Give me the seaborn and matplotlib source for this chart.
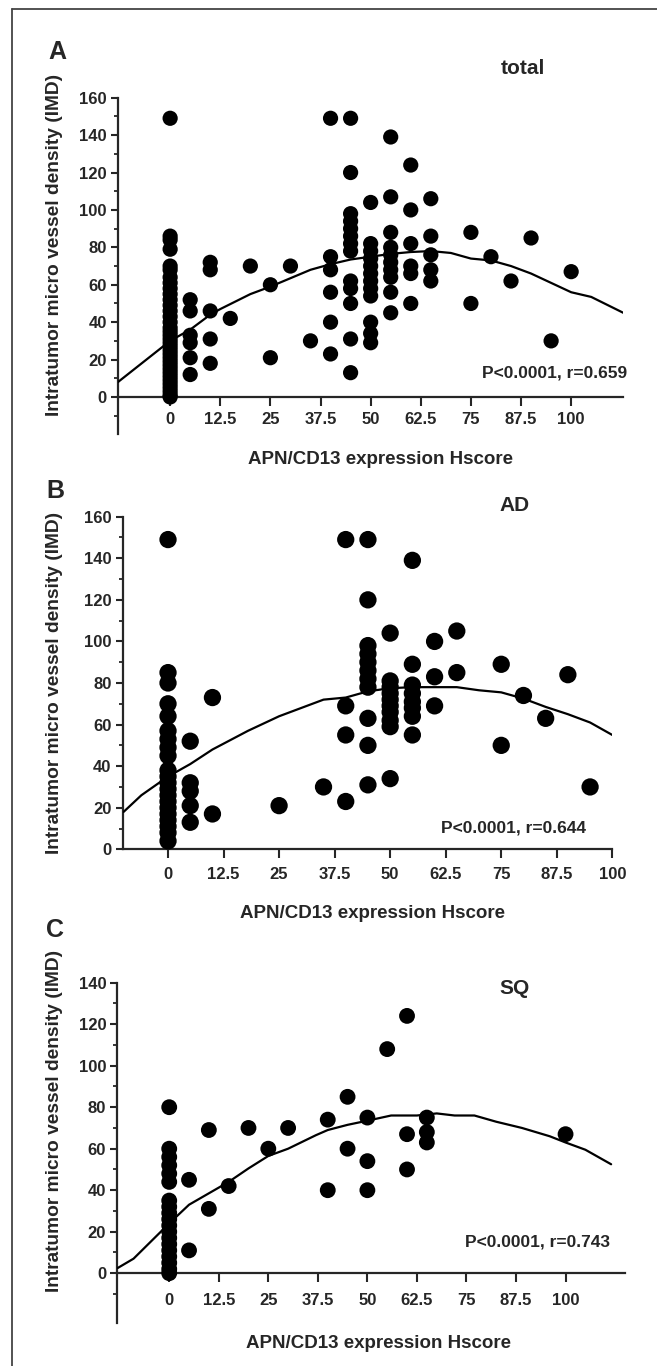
import numpy as np
import pandas as pd
import matplotlib
matplotlib.use("Agg")
import matplotlib.pyplot as plt
from matplotlib.lines import Line2D
import seaborn as sns

# ---------------- data ----------------
# Panel A (total)
total_hscore = [0]*35 + [5]*6 + [10]*5 + [15, 20, 25, 25, 30, 35] + [40]*6 + [45]*13 + [50]*12 + [55]*10 + [60]*6 + [65]*5 + [75, 75, 80, 85, 90, 95, 100]
total_imd = [149, 86, 84, 79, 70, 68, 64, 61, 58, 55, 52, 49, 46, 43, 40, 37, 35, 33, 31, 29, 27, 25, 23, 21, 19, 17, 15, 13, 11, 9, 7, 5, 3, 1, 0,
             52, 46, 33, 29, 21, 12,
             72, 68, 46, 31, 18,
             42, 70, 60, 21, 70, 30,
             149, 75, 68, 56, 40, 23,
             149, 120, 98, 94, 90, 86, 82, 78, 62, 58, 50, 31, 13,
             104, 82, 78, 74, 70, 66, 62, 58, 54, 40, 34, 29,
             139, 107, 88, 80, 76, 72, 68, 64, 56, 45,
             124, 100, 82, 70, 66, 50,
             106, 86, 76, 68, 62,
             88, 50, 75, 62, 85, 30, 67]
total_fit_x = [-13, 0, 5, 10, 12.5, 20, 25, 35, 40, 45, 50, 55, 60, 65, 70, 75, 80, 85, 90, 95, 100, 105, 113]
total_fit_y = [8, 30, 36, 44, 47, 55, 59, 68, 71, 73.5, 75, 76.5, 77.5, 78, 77, 74, 73, 70, 66, 61, 56, 53.5, 45]

# Panel B (AD)
ad_hscore = [0]*21 + [5]*5 + [10]*2 + [25, 35] + [40]*4 + [45]*11 + [50]*10 + [55]*8 + [60]*3 + [65]*2 + [75, 75, 80, 85, 90, 95]
ad_imd = [149, 85, 80, 70, 64, 57, 53, 49, 45, 38, 35, 32, 29, 26, 23, 20, 17, 14, 11, 8, 4,
          52, 32, 28, 21, 13,
          73, 17,
          21, 30,
          149, 69, 55, 23,
          149, 120, 98, 94, 90, 86, 82, 78, 63, 50, 31,
          104, 81, 78, 75, 72, 69, 66, 62, 59, 34,
          139, 89, 79, 75, 71, 68, 64, 55,
          100, 83, 69,
          105, 85,
          89, 50, 74, 63, 84, 30]
ad_fit_x = [-10, -6, 0, 5, 10, 18, 25, 35, 40, 45, 50, 55, 60, 65, 70, 75, 80, 85, 90, 95, 100]
ad_fit_y = [18, 26, 35, 41, 48, 57, 64, 72, 73, 76, 77.5, 78, 78, 78, 76.5, 75.5, 72.5, 68.5, 65, 61, 55]

# Panel C (SQ)
sq_hscore = [0]*19 + [5]*2 + [10]*2 + [15, 20, 25, 30] + [40]*2 + [45]*2 + [50]*3 + [55] + [60]*3 + [65]*3 + [100]
sq_imd = [80, 60, 56, 52, 48, 44, 35, 32, 29, 26, 23, 20, 17, 14, 11, 8, 5, 2, 0,
          45, 11,
          69, 31,
          42, 70, 60, 70,
          74, 40,
          85, 60,
          75, 54, 40,
          108,
          124, 67, 50,
          75, 68, 63,
          67]
sq_fit_x = [-13, -9, 0, 5, 10, 15, 20, 25, 30, 37, 40, 45, 50, 56, 62.5, 67.5, 72, 77, 82.5, 89, 96, 100, 105, 111.5]
sq_fit_y = [2.5, 7, 24, 33, 38.5, 44, 50.5, 56.5, 60, 66.5, 69, 71.5, 73.5, 76, 76, 77, 76, 76, 73, 70, 66, 63, 59.5, 52.5]

x_ticks = [0, 12.5, 25, 37.5, 50, 62.5, 75, 87.5, 100]
x_tick_labels = ["0", "12.5", "25", "37.5", "50", "62.5", "75", "87.5", "100"]
panel_letters = ["A", "B", "C"]
panel_titles = ["total", "AD", "SQ"]
stat_texts = ["P<0.0001, r=0.659", "P<0.0001, r=0.644", "P<0.0001, r=0.743"]
x_label = "APN/CD13 expression Hscore"
y_label = "Intratumor micro vessel density (IMD)"

# ---------------- style ----------------
sns.set_style("ticks")
plt.rcParams['font.family'] = ['Liberation Sans', 'DejaVu Sans']
plt.rcParams['font.weight'] = 'bold'

W, H = 657, 1366
fig = plt.figure(figsize=(W / 100, H / 100), dpi=100)
fig.patch.set_facecolor('white')

def fx(px):
    return px / W

def fy(py):
    return 1 - py / H

def axes_px(left, top, right, bottom):
    return fig.add_axes([fx(left), fy(bottom), (right - left) / W, (bottom - top) / H])

# frame lines (top and left)
fig.add_artist(Line2D([fx(12), fx(657)], [fy(9), fy(9)], transform=fig.transFigure, color='#444444', lw=1.3))
fig.add_artist(Line2D([fx(12), fx(12)], [fy(9), fy(1366)], transform=fig.transFigure, color='#444444', lw=1.3))

panels = [
    dict(x=total_hscore, y=total_imd, fx_=total_fit_x, fy_=total_fit_y,
         box=(118, 97.7, 623.3, 434.4), xlim=(-13, 113), ylim=(-20, 160),
         yticks=list(range(0, 161, 20)), yminor=[-10] + list(range(10, 160, 20)), s=120,
         letter=(57, 52), title=(523, 69), stat=(627, 373), xlab=(380, 459), ylab=(55, 245), tickpad=4),
    dict(x=ad_hscore, y=ad_imd, fx_=ad_fit_x, fy_=ad_fit_y,
         box=(122.7, 516.7, 612.3, 849.3), xlim=(-10.2, 100), ylim=(0, 160),
         yticks=list(range(0, 161, 20)), yminor=list(range(10, 160, 20)), s=155,
         letter=(55, 491), title=(515, 505), stat=(586, 828), xlab=(372, 914), ylab=(55, 683), tickpad=6),
    dict(x=sq_hscore, y=sq_imd, fx_=sq_fit_x, fy_=sq_fit_y,
         box=(117.3, 982.7, 625, 1323), xlim=(-13.1, 115), ylim=(-24, 140),
         yticks=list(range(0, 141, 20)), yminor=[-10] + list(range(10, 140, 20)), s=130,
         letter=(55, 930), title=(515, 988), stat=(610, 1242), xlab=(378, 1343), ylab=(55, 1121), tickpad=8),
]

for i, p in enumerate(panels):
    ax = axes_px(*p['box'])
    ax.set_facecolor('none')
    df = pd.DataFrame({'h': p['x'], 'imd': p['y']})
    fit = pd.DataFrame({'h': p['fx_'], 'imd': p['fy_']})
    sns.scatterplot(data=df, x='h', y='imd', ax=ax, color='black', s=p['s'],
                    linewidth=0, edgecolor='none', clip_on=False, zorder=3)
    sns.lineplot(data=fit, x='h', y='imd', ax=ax, color='black', lw=1.6,
                 sort=False, estimator=None, zorder=4)
    ax.set_xlim(*p['xlim'])
    ax.set_ylim(*p['ylim'])
    for side in ['top', 'right']:
        ax.spines[side].set_visible(False)
    ax.spines['bottom'].set_position(('data', 0))
    ax.spines['bottom'].set_linewidth(1.6)
    ax.spines['left'].set_linewidth(1.6)
    ax.set_xticks(x_ticks)
    ax.set_xticklabels(x_tick_labels)
    ax.set_yticks(p['yticks'])
    ax.set_yticks(p['yminor'], minor=True)
    ax.tick_params(axis='x', direction='out', length=6.5, width=1.5, labelsize=12, pad=p['tickpad'])
    ax.tick_params(axis='y', which='major', direction='out', length=5, width=1.5, labelsize=12, pad=3)
    ax.tick_params(axis='y', which='minor', direction='out', length=3, width=1.3)
    ax.set_xlabel('')
    ax.set_ylabel('')

    fig.text(fx(p['letter'][0]), fy(p['letter'][1]), panel_letters[i], fontsize=18,
             fontweight='bold', ha='center', va='center')
    fig.text(fx(p['title'][0]), fy(p['title'][1]), panel_titles[i], fontsize=15,
             fontweight='bold', ha='center', va='center')
    fig.text(fx(p['stat'][0]), fy(p['stat'][1]), stat_texts[i], fontsize=12.5,
             fontweight='bold', ha='right', va='center')
    fig.text(fx(p['xlab'][0]), fy(p['xlab'][1]), x_label, fontsize=13.5,
             fontweight='bold', ha='center', va='center')
    fig.text(fx(p['ylab'][0]), fy(p['ylab'][1]), y_label, fontsize=13.8,
             fontweight='bold', ha='center', va='center', rotation=90)

fig.savefig('out.png', dpi=100, facecolor='white')
